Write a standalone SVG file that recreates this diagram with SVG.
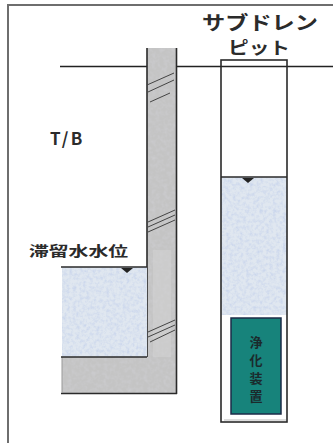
<svg xmlns="http://www.w3.org/2000/svg" width="333" height="443" viewBox="0 0 333 443">
  <defs>
    <!-- speckled fill for water -->
    <filter id="grainWater" x="0" y="0" width="1" height="1">
      <feTurbulence type="fractalNoise" baseFrequency="0.3" numOctaves="3" seed="4" result="n"/>
      <feColorMatrix in="n" type="matrix" values="0 0 0 0 0.60  0 0 0 0 0.68  0 0 0 0 0.84  0 0 0 2.2 -0.85" result="spots"/>
      <feComposite in="spots" in2="SourceGraphic" operator="atop"/>
    </filter>
    <!-- speckled fill for concrete -->
    <filter id="grainConcrete" x="0" y="0" width="1" height="1">
      <feTurbulence type="fractalNoise" baseFrequency="0.25" numOctaves="3" seed="9" result="n"/>
      <feColorMatrix in="n" type="matrix" values="0 0 0 0 0.60  0 0 0 0 0.60  0 0 0 0 0.62  0 0 0 1.8 -0.7" result="spots"/>
      <feComposite in="spots" in2="SourceGraphic" operator="atop"/>
    </filter>
    <style>
      .label { font-family: "Noto Sans CJK JP", "Noto Sans", sans-serif; fill: #2b2b2b; font-weight: 700; }
      .edge { fill: none; stroke: #2a2a2a; stroke-width: 1.6; }
      .hatch { fill: none; stroke: #444; stroke-width: 1; }
      .marker { fill: #222; }
    </style>
  </defs>

  <rect width="333" height="443" fill="#fff"/>

  <!-- frame -->
  <path d="M8,443 V5 H333" fill="none" stroke="#6e6e6e" stroke-width="2"/>

  <!-- ground level -->
  <line x1="60" y1="66.5" x2="333" y2="66.5" stroke="#222" stroke-width="1.4"/>

  <!-- building wall and base slab -->
  <g id="building">
    <path d="M147,48 V357 H62 V393 H177 V48 Z" fill="#c4c4c4" filter="url(#grainConcrete)"/>
    <rect x="153" y="250" width="18" height="107" fill="#d4d4d4" opacity="0.5"/>
    <line x1="147" y1="48" x2="147" y2="357" class="edge"/>
    <line x1="176.5" y1="48" x2="176.5" y2="394" class="edge"/>
    <line x1="61" y1="393.5" x2="177" y2="393.5" class="edge"/>
    <line x1="62" y1="357" x2="62" y2="393" stroke="#999" stroke-width="1"/>
    <!-- joints -->
    <path class="hatch" d="M147,85 L174,73 M148,92 L174,80 M150,102 L170,93"/>
    <path class="hatch" d="M148,222 L175,210 M148,227 L175,215 M148,232 L175,220"/>
    <path class="hatch" d="M148,332 L175,320 M148,337 L175,325 M150,342 L175,330"/>
  </g>

  <!-- retained water inside building -->
  <g id="retained-water">
    <rect x="62" y="267" width="85" height="90" fill="#e0e7f0" filter="url(#grainWater)"/>
    <line x1="61" y1="267" x2="147" y2="267" class="edge"/>
    <line x1="61" y1="357" x2="147" y2="357" class="edge"/>
    <path class="marker" d="M121,268 L133,268 L127,273 Z"/>
    <text class="label" x="29" y="256" font-size="14" textLength="99" lengthAdjust="spacingAndGlyphs">滞留水水位</text>
  </g>

  <text id="tb-label" class="label" x="50" y="145" font-size="17" font-family="Liberation Sans, Arial, sans-serif" font-weight="400" letter-spacing="2.5">T/B</text>

  <!-- sub-drain pit -->
  <g id="subdrain-pit">
    <rect x="221" y="177" width="66" height="138" fill="#e0e7f0" filter="url(#grainWater)"/>
    <rect x="221" y="60" width="66" height="362" class="edge"/>
    <line x1="224" y1="420" x2="286" y2="420" stroke="#bbb" stroke-width="1"/>
    <line x1="221" y1="177" x2="287" y2="177" class="edge"/>
    <path class="marker" d="M242,178 L254,178 L248,183 Z"/>
    <text class="label" x="260" y="30" font-size="19" text-anchor="middle" textLength="116" lengthAdjust="spacingAndGlyphs">サブドレン</text>
    <text class="label" x="259" y="54" font-size="17" text-anchor="middle" textLength="62" lengthAdjust="spacingAndGlyphs">ピット</text>
  </g>

  <!-- purification unit -->
  <g id="purifier">
    <rect x="231" y="318" width="50" height="96" fill="#17837b" stroke="#1d2b48" stroke-width="1.5"/>
    <g class="label" font-size="13" text-anchor="middle" style="fill:#1b2a2c">
      <text x="256" y="347">浄</text>
      <text x="256" y="365">化</text>
      <text x="256" y="383">装</text>
      <text x="256" y="401">置</text>
    </g>
  </g>
</svg>
